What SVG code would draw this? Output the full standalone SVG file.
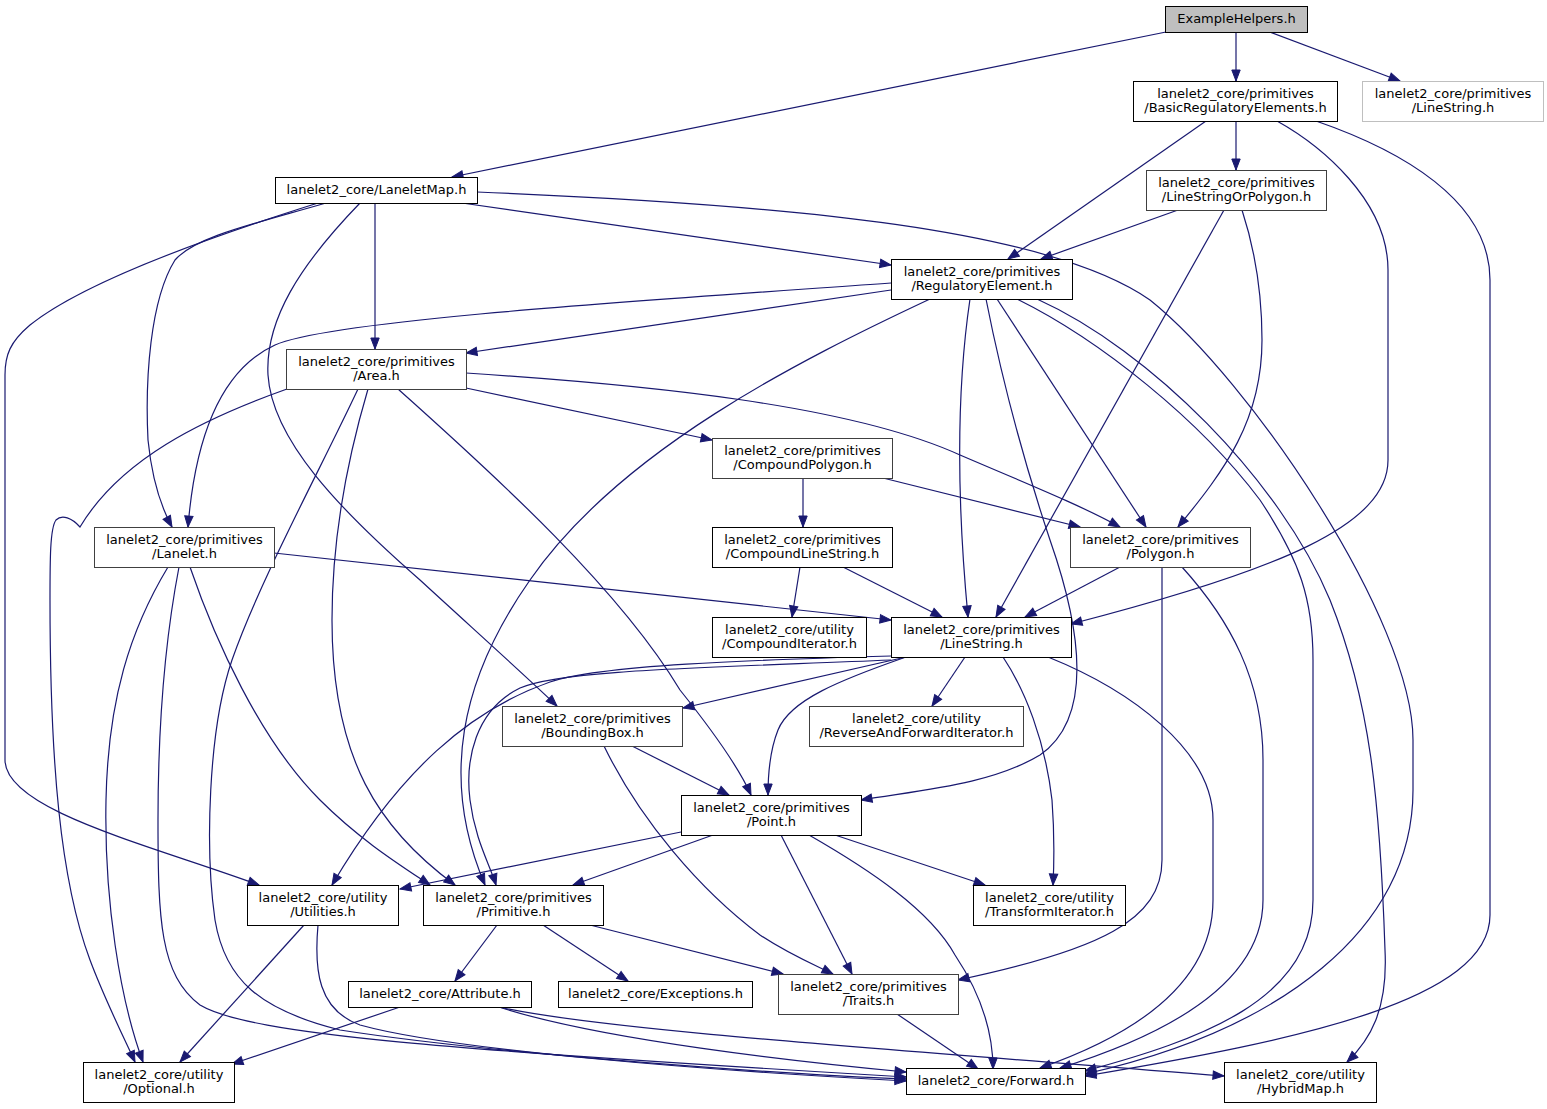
<svg xmlns="http://www.w3.org/2000/svg" width="1547" height="1109" viewBox="0 0 1547 1109">
<style>
.n rect{fill:#fff;stroke:#000;stroke-width:1}
.n.g rect{stroke:#404040}
.n.x rect{stroke:#bfbfbf}
.n.r rect{fill:#bfbfbf;stroke:#000}
.n text{font-family:"DejaVu Sans","Liberation Sans",sans-serif;font-size:13px;fill:#000;text-anchor:middle}
.e path{fill:none;stroke:#191970;stroke-width:1.2;marker-end:url(#a)}
</style>
<defs>
<marker id="a" markerWidth="14" markerHeight="12" refX="11" refY="6" orient="auto" markerUnits="userSpaceOnUse" overflow="visible">
<path d="M0,1.8 L11,6 L0,10.2 z" fill="#191970" stroke="#191970" stroke-width="1"/>
</marker>
</defs>
<rect width="1547" height="1109" fill="#fff"/>
<g id="edges" class="e">
<path d="M1166,32 L452,177"/>
<path d="M1236,32 L1236,81"/>
<path d="M1270,32 L1400,81"/>
<path d="M1206,121 L1008,259"/>
<path d="M1236,121 L1236,170"/>
<path d="M1277,121 C1320,145 1388,200 1388,270 L1388,460 C1388,525 1280,570 1071,624"/>
<path d="M1316,121 C1400,150 1490,200 1490,280 L1490,915 C1490,1000 1300,1040 1085,1076"/>
<path d="M1178,210 L1041,259"/>
<path d="M1224,210 L996,617"/>
<path d="M1242,210 C1255,250 1262,290 1262,340 C1262,420 1225,470 1178,527"/>
<path d="M375,203 L375,349"/>
<path d="M462,203 L891,265"/>
<path d="M326,203 C250,225 195,237 175,260 C150,300 145,380 148,440 C152,480 160,505 172,527"/>
<path d="M318,203 C200,240 80,285 30,325 C10,342 5,355 5,375 L5,760 C5,810 150,845 259,885"/>
<path d="M360,203 C300,265 265,320 268,375 C272,440 340,510 420,580 C480,635 530,680 557,706"/>
<path d="M477,192 C800,205 1050,230 1150,300 C1250,380 1413,620 1413,740 L1413,790 C1413,930 1280,1030 1085,1074"/>
<path d="M891,283 C650,300 330,320 275,345 C220,370 195,440 188,527"/>
<path d="M891,290 L466,353"/>
<path d="M930,299 C800,360 620,450 530,580 C460,680 440,780 485,885"/>
<path d="M970,299 C958,380 955,480 968,617"/>
<path d="M986,299 C1000,370 1020,450 1050,540 C1085,640 1090,720 1040,755 C990,785 920,790 861,800"/>
<path d="M997,299 L1146,527"/>
<path d="M1017,299 C1100,340 1200,420 1260,500 C1300,560 1313,600 1313,660 L1313,900 C1313,1000 1200,1040 1085,1071"/>
<path d="M1037,299 C1150,350 1280,480 1330,600 C1370,700 1380,800 1385,950 C1388,1010 1370,1040 1347,1062"/>
<path d="M466,388 L712,440"/>
<path d="M466,373 C650,385 850,405 960,455 C1030,485 1080,505 1120,527"/>
<path d="M398,389 C500,480 620,590 680,690 C720,740 740,770 751,795"/>
<path d="M368,389 C350,450 332,530 332,620 C332,760 380,830 455,885"/>
<path d="M358,389 C320,470 260,580 232,660 C208,730 205,850 215,920 C225,980 260,1010 340,1030 C500,1055 800,1075 906,1079"/>
<path d="M287,389 C200,420 120,460 80,527 C72,518 62,514 56,520 C50,528 50,560 50,600 C50,760 60,880 90,960 C105,1000 125,1040 135,1062"/>
<path d="M803,478 L803,527"/>
<path d="M883,478 L1080,527"/>
<path d="M800,567 L792,617"/>
<path d="M843,567 L942,617"/>
<path d="M1120,567 L1025,617"/>
<path d="M1162,567 L1162,860 C1162,920 1100,950 958,980"/>
<path d="M1182,567 C1230,620 1263,680 1263,760 L1263,900 C1263,990 1150,1040 1060,1068"/>
<path d="M274,553 L891,620"/>
<path d="M190,567 C215,640 260,740 320,800 C360,840 400,865 430,885"/>
<path d="M168,567 C130,630 108,700 106,800 C104,900 120,1000 143,1062"/>
<path d="M179,567 C165,640 158,720 158,820 C158,920 160,975 200,1005 C250,1035 450,1050 906,1077"/>
<path d="M891,656 C750,660 600,665 550,682 C470,710 400,770 332,885"/>
<path d="M891,660 C700,668 560,670 520,688 C475,710 465,760 470,800 C475,840 490,865 496,885"/>
<path d="M906,657 L683,708"/>
<path d="M965,657 L932,706"/>
<path d="M906,657 C840,680 790,700 778,730 C770,750 768,775 768,795"/>
<path d="M1003,657 C1025,690 1045,740 1052,800 C1055,840 1054,865 1053,885"/>
<path d="M1048,657 C1130,690 1213,750 1213,820 L1213,900 C1213,990 1120,1040 1040,1068"/>
<path d="M632,746 L729,795"/>
<path d="M604,746 C640,820 700,890 760,935 C790,955 815,965 833,974"/>
<path d="M681,832 L400,889"/>
<path d="M713,835 L573,885"/>
<path d="M781,835 L852,974"/>
<path d="M809,835 C870,870 930,910 955,955 C985,1000 993,1040 993,1069"/>
<path d="M835,835 L985,885"/>
<path d="M304,925 L180,1062"/>
<path d="M318,925 C314,970 318,1010 360,1025 C450,1050 700,1070 906,1081"/>
<path d="M497,925 L455,981"/>
<path d="M543,925 L628,981"/>
<path d="M590,925 L783,974"/>
<path d="M400,1007 L232,1064"/>
<path d="M499,1007 C600,1040 800,1062 906,1072"/>
<path d="M499,1007 C600,1030 900,1050 1224,1076"/>
<path d="M897,1014 L978,1069"/>
</g>
<g id="node_ExampleHelpers" class="n r"><rect x="1165.5" y="6.5" width="142" height="26"/><text x="1236.5" y="23">ExampleHelpers.h</text></g>
<g id="node_BasicRegulatoryElements" class="n"><rect x="1133.5" y="81.5" width="204" height="40"/><text x="1235.5" y="97.5">lanelet2_core/primitives</text><text x="1235.5" y="112">/BasicRegulatoryElements.h</text></g>
<g id="node_LineStringGray" class="n x"><rect x="1362.5" y="81.5" width="181" height="40"/><text x="1453" y="97.5">lanelet2_core/primitives</text><text x="1453" y="112">/LineString.h</text></g>
<g id="node_LaneletMap" class="n"><rect x="275.5" y="177.5" width="202" height="26"/><text x="376.5" y="194">lanelet2_core/LaneletMap.h</text></g>
<g id="node_LineStringOrPolygon" class="n g"><rect x="1146.5" y="170.5" width="180" height="40"/><text x="1236.5" y="186.5">lanelet2_core/primitives</text><text x="1236.5" y="201">/LineStringOrPolygon.h</text></g>
<g id="node_RegulatoryElement" class="n"><rect x="891.5" y="259.5" width="181" height="40"/><text x="982" y="275.5">lanelet2_core/primitives</text><text x="982" y="290">/RegulatoryElement.h</text></g>
<g id="node_Area" class="n g"><rect x="286.5" y="349.5" width="180" height="40"/><text x="376.5" y="365.5">lanelet2_core/primitives</text><text x="376.5" y="380">/Area.h</text></g>
<g id="node_CompoundPolygon" class="n g"><rect x="712.5" y="438.5" width="180" height="40"/><text x="802.5" y="454.5">lanelet2_core/primitives</text><text x="802.5" y="469">/CompoundPolygon.h</text></g>
<g id="node_Lanelet" class="n g"><rect x="94.5" y="527.5" width="180" height="40"/><text x="184.5" y="543.5">lanelet2_core/primitives</text><text x="184.5" y="558">/Lanelet.h</text></g>
<g id="node_CompoundLineString" class="n"><rect x="712.5" y="527.5" width="180" height="40"/><text x="802.5" y="543.5">lanelet2_core/primitives</text><text x="802.5" y="558">/CompoundLineString.h</text></g>
<g id="node_Polygon" class="n g"><rect x="1070.5" y="527.5" width="180" height="40"/><text x="1160.5" y="543.5">lanelet2_core/primitives</text><text x="1160.5" y="558">/Polygon.h</text></g>
<g id="node_CompoundIterator" class="n"><rect x="712.5" y="617.5" width="154" height="40"/><text x="789.5" y="633.5">lanelet2_core/utility</text><text x="789.5" y="648">/CompoundIterator.h</text></g>
<g id="node_LineString" class="n"><rect x="891.5" y="617.5" width="180" height="40"/><text x="981.5" y="633.5">lanelet2_core/primitives</text><text x="981.5" y="648">/LineString.h</text></g>
<g id="node_BoundingBox" class="n g"><rect x="502.5" y="706.5" width="180" height="40"/><text x="592.5" y="722.5">lanelet2_core/primitives</text><text x="592.5" y="737">/BoundingBox.h</text></g>
<g id="node_ReverseAndForwardIterator" class="n g"><rect x="809.5" y="706.5" width="214" height="40"/><text x="916.5" y="722.5">lanelet2_core/utility</text><text x="916.5" y="737">/ReverseAndForwardIterator.h</text></g>
<g id="node_Point" class="n"><rect x="681.5" y="795.5" width="180" height="40"/><text x="771.5" y="811.5">lanelet2_core/primitives</text><text x="771.5" y="826">/Point.h</text></g>
<g id="node_Utilities" class="n"><rect x="247.5" y="885.5" width="151" height="40"/><text x="323" y="901.5">lanelet2_core/utility</text><text x="323" y="916">/Utilities.h</text></g>
<g id="node_Primitive" class="n"><rect x="423.5" y="885.5" width="180" height="40"/><text x="513.5" y="901.5">lanelet2_core/primitives</text><text x="513.5" y="916">/Primitive.h</text></g>
<g id="node_TransformIterator" class="n"><rect x="973.5" y="885.5" width="152" height="40"/><text x="1049.5" y="901.5">lanelet2_core/utility</text><text x="1049.5" y="916">/TransformIterator.h</text></g>
<g id="node_Attribute" class="n"><rect x="348.5" y="981.5" width="183" height="26"/><text x="440" y="998">lanelet2_core/Attribute.h</text></g>
<g id="node_Exceptions" class="n"><rect x="558.5" y="981.5" width="194" height="26"/><text x="655.5" y="998">lanelet2_core/Exceptions.h</text></g>
<g id="node_Traits" class="n g"><rect x="778.5" y="974.5" width="180" height="40"/><text x="868.5" y="990.5">lanelet2_core/primitives</text><text x="868.5" y="1005">/Traits.h</text></g>
<g id="node_Optional" class="n"><rect x="83.5" y="1062.5" width="151" height="40"/><text x="159" y="1078.5">lanelet2_core/utility</text><text x="159" y="1093">/Optional.h</text></g>
<g id="node_Forward" class="n"><rect x="906.5" y="1068.5" width="179" height="26"/><text x="996" y="1085">lanelet2_core/Forward.h</text></g>
<g id="node_HybridMap" class="n"><rect x="1224.5" y="1062.5" width="152" height="40"/><text x="1300.5" y="1078.5">lanelet2_core/utility</text><text x="1300.5" y="1093">/HybridMap.h</text></g>
</svg>
